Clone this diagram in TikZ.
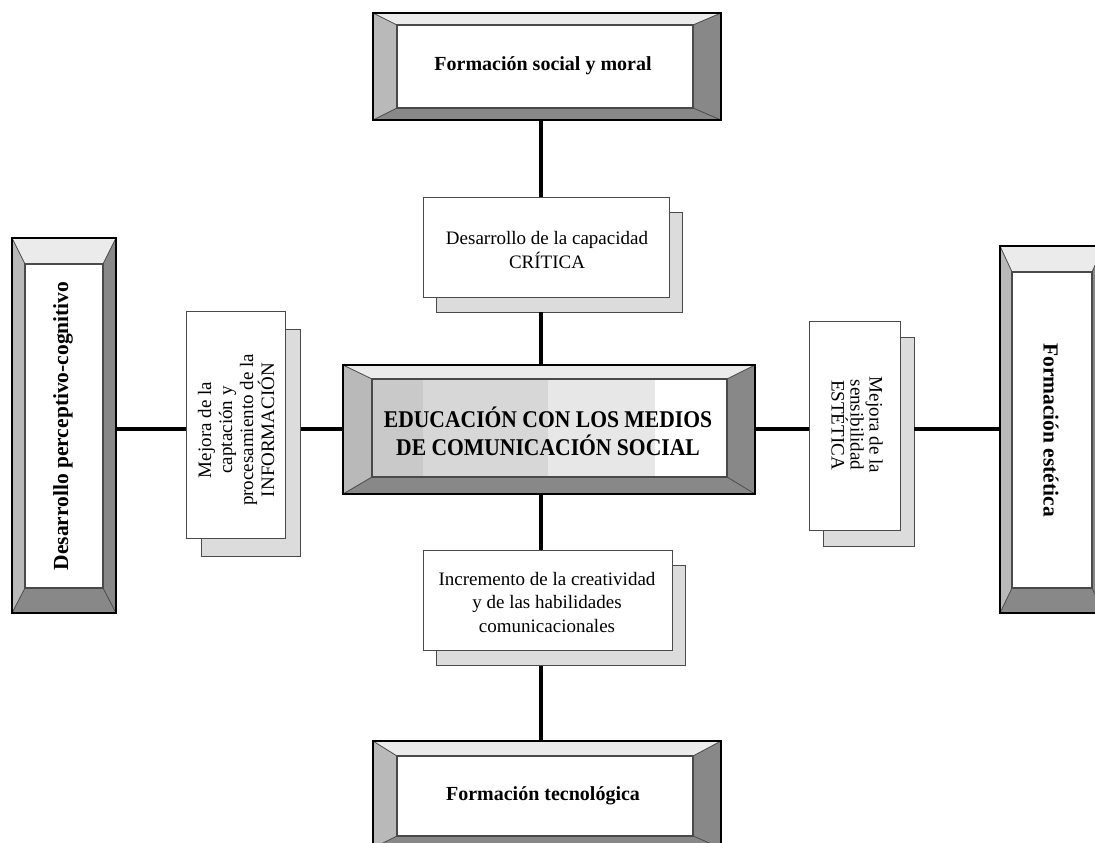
\documentclass[tikz,border=0pt]{standalone}
\usepackage{fontspec}
\setmainfont{Liberation Serif}
\newfontfamily\condfont[FakeStretch=0.9]{Liberation Serif}
\usetikzlibrary{calc}
\definecolor{bvtop}{HTML}{EBEBEB}
\definecolor{bvleft}{HTML}{B9B9B9}
\definecolor{bvdark}{HTML}{888888}
\definecolor{shadowgray}{HTML}{DCDCDC}
\definecolor{edgegray}{HTML}{4A4A4A}
\definecolor{bandA}{HTML}{C9C9C9}
\definecolor{bandB}{HTML}{D7D7D7}
\definecolor{bandC}{HTML}{E7E7E7}
\newcommand\bevelbox[5]{%
 \fill[bvtop] (#1.north west) -- (#1.north east) -- ($(#1.north east)+(-#3,#4)$) -- ($(#1.north west)+(#2,#4)$) -- cycle;
 \fill[bvleft] (#1.north west) -- ($(#1.north west)+(#2,#4)$) -- ($(#1.south west)+(#2,-#5)$) -- (#1.south west) -- cycle;
 \fill[bvdark] (#1.north east) -- ($(#1.north east)+(-#3,#4)$) -- ($(#1.south east)+(-#3,-#5)$) -- (#1.south east) -- cycle;
 \fill[bvdark] (#1.south west) -- ($(#1.south west)+(#2,-#5)$) -- ($(#1.south east)+(-#3,-#5)$) -- (#1.south east) -- cycle;
 \draw[edgegray, line width=1.2pt] ($(#1.north west)+(#2,#4)$) rectangle ($(#1.south east)+(-#3,-#5)$);
 \draw[edgegray, line width=0.8pt] (#1.north west) -- ($(#1.north west)+(#2,#4)$)
   (#1.north east) -- ($(#1.north east)+(-#3,#4)$)
   (#1.south west) -- ($(#1.south west)+(#2,-#5)$)
   (#1.south east) -- ($(#1.south east)+(-#3,-#5)$);
 \draw[black, line width=1.4pt] (#1.north west) rectangle (#1.south east);
}
\tikzset{
  bevel/.style={fill=white, inner sep=0pt, outer sep=0pt},
  frontbox/.style={fill=white, draw=edgegray, line width=1pt, inner sep=0pt, outer sep=0pt},
  shadowbox/.style={fill=shadowgray, draw=edgegray, line width=1pt, inner sep=0pt, outer sep=0pt},
  conn/.style={line width=4.4pt, black},
  bigtxt/.style={font=\fontsize{20}{24}\selectfont\bfseries, align=center},
  sidetxt/.style={font=\fontsize{21.5}{24}\selectfont\bfseries, align=center},
  smalltxt/.style={font=\fontsize{19}{24}\selectfont, align=center},
}
\begin{document}
\begin{tikzpicture}[x=1pt, y=-1pt]
\useasboundingbox (0,0) rectangle (1095,843);
\clip (0,0) rectangle (1095,843);
\fill[white] (0,0) rectangle (1095,843);

% bevel boxes
\node[bevel, minimum width=348pt, minimum height=107pt] (T) at (547,66.5) {};
\bevelbox{T}{24}{28}{12}{12}
\node[bevel, minimum width=348pt, minimum height=107pt] (B) at (547,794.5) {};
\bevelbox{B}{24}{28}{15}{12}
\node[bevel, minimum width=104pt, minimum height=375pt] (L) at (64,425.5) {};
\bevelbox{L}{13}{13}{26}{25}
\node[bevel, minimum width=104pt, minimum height=367pt] (R) at (1052,429.5) {};
\bevelbox{R}{12}{12}{26}{25}
\node[bevel, minimum width=412pt, minimum height=129pt] (C) at (549,429.5) {};
\fill[bandA] (372,379) rectangle (423,477);
\fill[bandB] (423,379) rectangle (548,477);
\fill[bandC] (548,379) rectangle (655,477);
\bevelbox{C}{29}{28}{14}{17}

% shadowed boxes
\node[shadowbox, minimum width=246pt, minimum height=100pt] (Ks) at (559,262) {};
\node[frontbox, minimum width=246pt, minimum height=100pt] (K) at (546,247) {};
\node[shadowbox, minimum width=249pt, minimum height=100pt] (Is) at (560.5,615.5) {};
\node[frontbox, minimum width=249pt, minimum height=100pt] (I) at (547.5,600) {};
\node[shadowbox, minimum width=99pt, minimum height=227pt] (LMs) at (251,442.5) {};
\node[frontbox, minimum width=99pt, minimum height=227pt] (LM) at (235.5,425) {};
\node[shadowbox, minimum width=91pt, minimum height=209pt] (RMs) at (868.5,441.5) {};
\node[frontbox, minimum width=91pt, minimum height=209pt] (RM) at (854.5,425.5) {};

% connectors
\coordinate (ax) at (541,429);
\draw[conn] (T.south -| ax) -- (K.north -| ax);
\draw[conn] (Ks.south -| ax) -- (C.north -| ax);
\draw[conn] (C.south -| ax) -- (I.north -| ax);
\draw[conn] (Is.south -| ax) -- (B.north -| ax);
\draw[conn] (L.east |- ax) -- (LM.west |- ax);
\draw[conn] (LMs.east |- ax) -- (C.west |- ax);
\draw[conn] (C.east |- ax) -- (RM.west |- ax);
\draw[conn] (RMs.east |- ax) -- (R.west |- ax);

% texts
\node[bigtxt] (Tt) at (543,66) {Formación social y moral};
\node[bigtxt] (Bt) at (543,796) {Formación tecnológica};
\node[sidetxt, rotate=90] (Lt) at (63,426) {Desarrollo perceptivo-cognitivo};
\node[sidetxt, rotate=-90] (Rt) at (1051,430) {Formación estética};
\node[font=\fontsize{24}{28}\condfont\bfseries, align=center] (Ct) at (548,431)
  {EDUCACIÓN CON LOS MEDIOS\\DE COMUNICACIÓN SOCIAL};
\node[smalltxt] (Kt) at (547,250) {Desarrollo de la capacidad\\CRÍTICA};
\node[font=\fontsize{19}{23.5}\selectfont, align=center] (It) at (547,602)
  {Incremento de la creatividad\\y de las habilidades\\comunicacionales};
\node[font=\fontsize{19}{21}\selectfont, align=center, rotate=90] (LMt) at (236,430)
  {Mejora de la\\captación y\\procesamiento de la\\INFORMACIÓN};
\node[font=\fontsize{19}{19}\selectfont, align=center, rotate=-90] (RMt) at (857,425)
  {Mejora de la\\sensibilidad\\ESTÉTICA};
\end{tikzpicture}
\end{document}
